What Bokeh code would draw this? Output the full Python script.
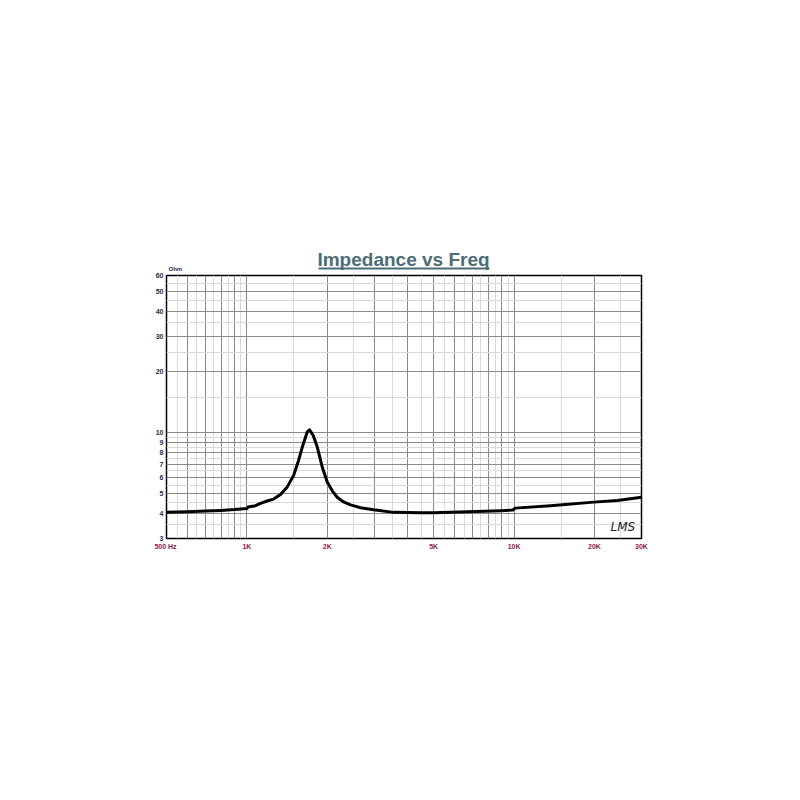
from bokeh.plotting import figure
from bokeh.layouts import column
from bokeh.models import FixedTicker, Label, ColumnDataSource, Range1d
from bokeh.core.properties import value
from bokeh.embed import file_html
from bokeh.resources import INLINE

# Impedance curve (Hz, Ohm)
freq = [500, 600, 700, 800, 900, 1000, 1010, 1077, 1124, 1190, 1258, 1336, 1416, 1495,
        1561, 1612, 1682, 1716, 1771, 1834, 1915, 2000, 2090, 2178, 2300, 2444, 2664,
        2980, 3540, 4470, 5000, 6700, 8910, 9900, 10100, 13700, 19870, 24360, 30000]
imp = [4.05, 4.07, 4.10, 4.13, 4.17, 4.22, 4.30, 4.36, 4.48, 4.60, 4.70, 4.95, 5.40, 6.15,
       7.30, 8.50, 10.10, 10.35, 9.70, 8.50, 6.76, 5.70, 5.15, 4.80, 4.55, 4.40, 4.26,
       4.16, 4.04, 4.02, 4.02, 4.07, 4.12, 4.15, 4.24, 4.36, 4.54, 4.63, 4.80]

x_ticks = [500, 1000, 2000, 5000, 10000, 20000, 30000]
x_tick_labels = ["500  Hz", "1K", "2K", "5K", "10K", "20K", "30K"]
y_ticks = [3, 4, 5, 6, 7, 8, 9, 10, 20, 30, 40, 50, 60]

x_grid_major = [500, 600, 700, 800, 900, 1000, 2000, 3000, 4000, 5000, 6000, 7000,
                8000, 9000, 10000, 20000, 30000]
x_grid_minor = [550, 650, 750, 850, 950, 1500, 2500, 3500, 4500, 5500, 6500, 7500,
                8500, 9500, 15000, 25000]
y_grid_major = [3, 4, 5, 6, 7, 8, 9, 10, 20, 30, 40, 50, 60]
y_grid_minor = [3.5, 4.5, 5.5, 6.5, 7.5, 8.5, 9.5, 15, 25, 35, 45, 55]

title_text = "Impedance vs Freq"
unit_text = "Ohm"
sign_text = "LMS"

W = 784
L = 166          # left border (px)
FW = 475         # frame width
FH = 263         # frame height
TOP = 3          # chart border above frame
TH = 275 - TOP   # title strip height
title_color = "#4d6c78"

# ---- title strip: same horizontal borders as chart, pixel coordinates (y up from strip bottom) ----
t = figure(x_range=Range1d(L, L + FW), y_range=Range1d(0, TH),
           frame_width=FW, frame_height=TH,
           min_border_left=L, min_border_right=W - L - FW,
           min_border_top=0, min_border_bottom=0,
           x_axis_location=None, y_axis_location=None,
           output_backend="svg", toolbar_location=None)
t.grid.visible = False
t.outline_line_color = None
t.text(x=[403], y=[TH - 258.5], text=[title_text], text_align="center",
       text_baseline="middle", text_font=value("Liberation Sans"),
       text_font_size="19px", text_font_style="bold", text_color=title_color)
t.segment(x0=[318], y0=[TH - 268], x1=[489], y1=[TH - 268],
          line_color=title_color, line_width=2)
t.text(x=[168], y=[TH - 268.5], text=[unit_text], text_align="left", text_baseline="middle",
       text_font=value("Liberation Sans"), text_font_size="6px",
       text_font_style="bold", text_color="#1c2e4a")

# ---- main chart ----
p = figure(x_axis_type="log", y_axis_type="log",
           x_range=(500, 30000), y_range=(3, 60),
           frame_width=FW, frame_height=FH,
           min_border_left=L, min_border_right=W - L - FW,
           min_border_top=TOP, min_border_bottom=230,
           output_backend="svg", toolbar_location=None,
           background_fill_color="white", border_fill_color="white")

p.outline_line_color = "black"
p.outline_line_width = 1.5

p.xgrid.ticker = FixedTicker(ticks=x_grid_major, minor_ticks=x_grid_minor)
p.ygrid.ticker = FixedTicker(ticks=y_grid_major, minor_ticks=y_grid_minor)
for g in (p.xgrid, p.ygrid):
    g.grid_line_color = "#8a8a8a"
    g.grid_line_width = 1
    g.grid_line_alpha = 1.0
    g.minor_grid_line_color = "#dadada"
    g.minor_grid_line_width = 1

p.xaxis.ticker = FixedTicker(ticks=x_ticks, minor_ticks=[])
p.xaxis.major_label_overrides = {tk: lb for tk, lb in zip(x_ticks, x_tick_labels)}
p.yaxis.ticker = FixedTicker(ticks=y_ticks, minor_ticks=[])
p.yaxis.major_label_overrides = {tk: str(tk) for tk in y_ticks}
for ax in (p.xaxis, p.yaxis):
    ax.axis_line_color = None
    ax.major_tick_line_color = None
    ax.minor_tick_line_color = None
    ax.major_tick_out = 0
    ax.major_tick_in = 0
    ax.minor_tick_out = 0
    ax.minor_tick_in = 0
    ax.major_label_text_font = "Liberation Sans"
    ax.major_label_text_font_size = "7px"
    ax.major_label_text_font_style = "bold"
p.xaxis.major_label_text_color = "#8a1a4c"
p.yaxis.major_label_text_color = "#1c2e4a"
p.xaxis.major_label_standoff = 4
p.yaxis.major_label_standoff = 3

src = ColumnDataSource(data=dict(f=freq, z=imp))
p.line("f", "z", source=src, line_color="black", line_width=3, line_join="round")

p.add_layout(Label(x=25550, y=3.42, text=sign_text, text_align="center",
                   text_baseline="middle", text_font="DejaVu Sans",
                   text_font_size="12px", text_font_style="italic",
                   text_color="#222222"))

layout = column(t, p, spacing=0)
open("out.html", "w").write(file_html(layout, INLINE))
